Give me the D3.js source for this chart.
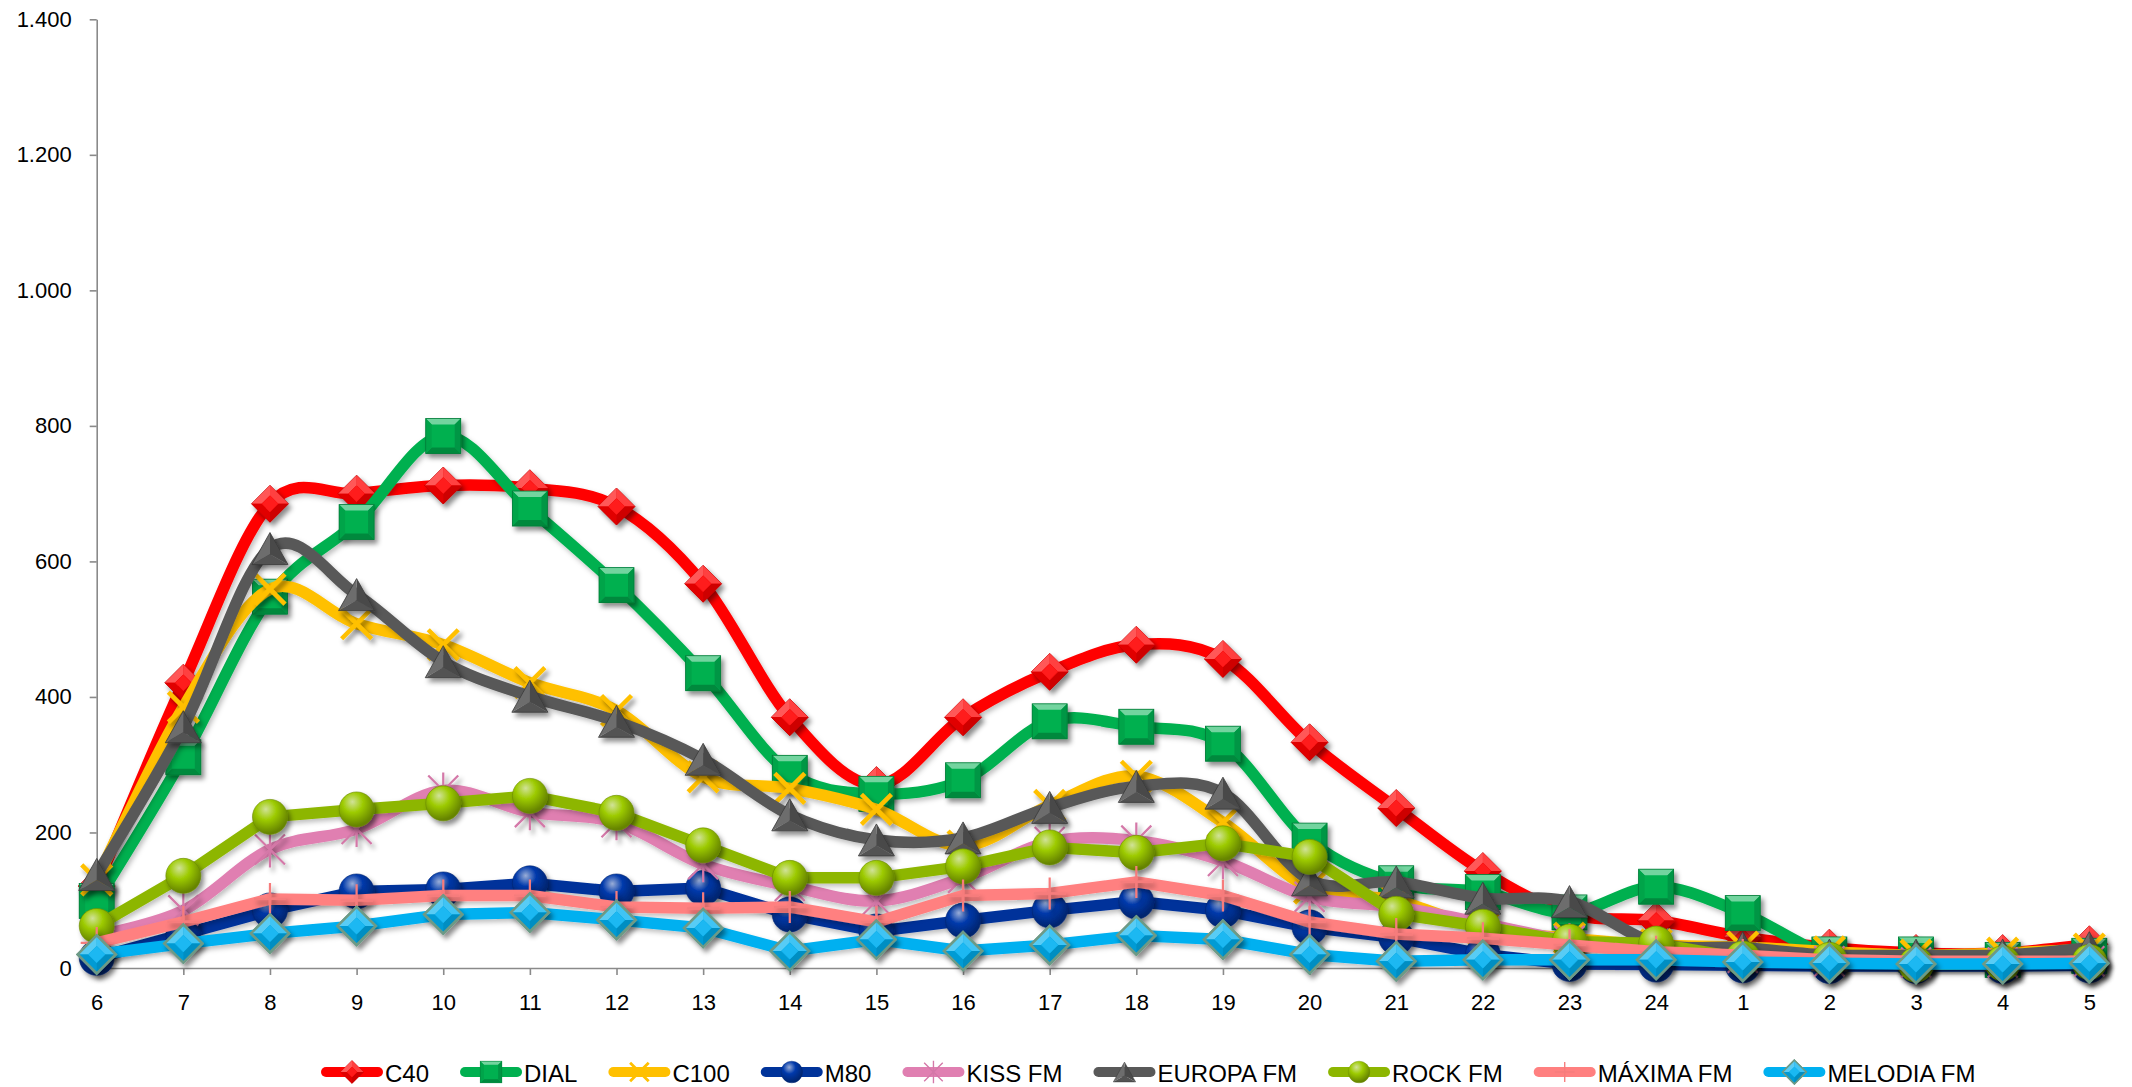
<!DOCTYPE html>
<html><head><meta charset="utf-8">
<script src="https://cdn.jsdelivr.net/npm/d3@7"></script>
<style>
body{margin:0;background:#fff}
svg{display:block}
text{font-family:"Liberation Sans",Arial,sans-serif;fill:#000}
</style>
</head><body>
<svg id="chart" width="2132" height="1087"></svg>
<script>
// ---------- DATA ----------
const categories = ["6","7","8","9","10","11","12","13","14","15","16","17","18","19","20","21","22","23","24","1","2","3","4","5"];
const seriesNames = ["C40","DIAL","C100","M80","KISS FM","EUROPA FM","ROCK FM","MÁXIMA FM","MELODIA FM"];
const c40     = [121,421,685,700,712,708,681,567,370,270,370,437,477,456,333,236,143,80,70,46,30,22,22,35];
const dial    = [99,311,548,658,785,678,565,435,288,257,277,364,356,331,188,125,112,82,120,81,20,20,12,18];
const c100    = [130,385,559,508,477,421,380,282,265,234,180,240,283,215,118,100,58,44,34,31,24,19,22,28];
const m80     = [15,50,85,113,116,125,113,118,79,54,70,85,98,85,60,45,20,6,5,4,3,3,3,4];
const kissFm  = [48,85,175,205,262,230,215,153,121,99,133,186,188,158,105,90,66,40,25,15,10,8,8,10];
const europaFm= [138,356,619,551,452,401,364,308,226,189,192,237,268,258,130,127,103,98,36,30,19,19,19,30];
const rockFm  = [62,136,223,234,243,254,229,181,133,133,150,178,170,184,164,80,61,39,36,14,12,5,7,9];
const maximaFm= [37,68,102,100,107,107,90,88,90,68,107,110,127,107,68,50,44,34,24,19,12,10,10,10];
const melodiaFm=[20,36,51,62,79,82,71,59,25,42,25,34,48,42,20,10,12,12,12,9,7,6,6,7];
const yTickValues = [0,200,400,600,800,1000,1200,1400];
const yTickLabels = ["0","200","400","600","800","1.000","1.200","1.400"];

// ---------- STYLE ----------
const styles = [
  {color:"#FF0000", marker:"diamond", smooth:true},
  {color:"#00B050", marker:"square", smooth:true},
  {color:"#FFC000", marker:"x", smooth:true},
  {color:"#00339A", marker:"circle", smooth:false},
  {color:"#E07FB1", marker:"star", smooth:true},
  {color:"#595959", marker:"triangle", smooth:true},
  {color:"#8DB600", marker:"circle", smooth:false},
  {color:"#FF8080", marker:"plus", smooth:false},
  {color:"#00B0F0", marker:"diamond2", smooth:false}
];
const seriesValues = [c40,dial,c100,m80,kissFm,europaFm,rockFm,maximaFm,melodiaFm];
const series = seriesNames.map((n,i)=>({name:n, values:seriesValues[i], ...styles[i], id:i}));

const svg = d3.select("#chart");
const X0 = 96.7, X1 = 2089.3, Y0 = 968, Y1 = 19.3;
const x = d3.scalePoint().domain(categories).range([X0, X1]);
const y = d3.scaleLinear().domain([0,1400]).range([Y0, Y1]);

// defs
const defs = svg.append("defs");
const f = defs.append("filter").attr("id","mshadow").attr("x","-50%").attr("y","-50%").attr("width","200%").attr("height","200%");
f.append("feDropShadow").attr("dx",3).attr("dy",4).attr("stdDeviation",2.5).attr("flood-color","#000").attr("flood-opacity",0.45);
const fl = defs.append("filter").attr("id","lshadow").attr("x","-5%").attr("y","-20%").attr("width","110%").attr("height","140%");
fl.append("feDropShadow").attr("dx",2).attr("dy",3).attr("stdDeviation",2.5).attr("flood-color","#000").attr("flood-opacity",0.25);

series.forEach(s=>{
  if (s.marker==="circle"){
    const c = d3.color(s.color);
    const rg = defs.append("radialGradient").attr("id","rg"+s.id).attr("cx","40%").attr("cy","32%").attr("r","65%").attr("fx","38%").attr("fy","28%");
    rg.append("stop").attr("offset","0%").attr("stop-color", d3.interpolateRgb(s.color,"#ffffff")(0.6));
    rg.append("stop").attr("offset","45%").attr("stop-color", c.brighter(0.3).formatHex());
    rg.append("stop").attr("offset","100%").attr("stop-color", c.darker(0.9).formatHex());
  }
});

// axes
const yAxis = d3.axisLeft(y).tickValues(yTickValues).tickFormat((d,i)=>yTickLabels[i]).tickSize(7).tickSizeOuter(0).tickPadding(18);
const gy = svg.append("g").attr("transform",`translate(${X0},0)`).call(yAxis);
gy.selectAll("text").style("font-size","22px");
gy.select(".domain").attr("stroke","#8a8a8a").attr("stroke-width",1.6);
gy.selectAll(".tick line").attr("stroke","#8a8a8a").attr("stroke-width",1.6);

const xAxis = d3.axisBottom(x).tickSize(7).tickSizeOuter(0).tickPadding(19);
const gx = svg.append("g").attr("transform",`translate(0,${Y0})`).call(xAxis);
gx.selectAll("text").style("font-size","22px");
gx.select(".domain").attr("stroke","#8a8a8a").attr("stroke-width",1.6);
gx.selectAll(".tick line").attr("stroke","#8a8a8a").attr("stroke-width",1.6);

// marker drawing
function shade(col,k){ const c=d3.color(col); return (k>=0?c.brighter(k):c.darker(-k)).formatHex(); }
function mix(col,other,t){ return d3.interpolateRgb(col,other)(t); }
function drawMarker(g, s, scale){
  const col = s.color, k = scale;
  switch(s.marker){
    case "diamond":
    case "diamond2": {
      const r = (s.marker==="diamond2"?19:18.5)*k;
      const ins = r*0.45;
      g.append("path").attr("d",`M0,${-r}L${r},0L0,${r}L${-r},0Z`).attr("fill",shade(col,-0.3))
        .attr("stroke", s.marker==="diamond2"?"#6d9a86":shade(col,-1)).attr("stroke-width", s.marker==="diamond2"?2.5*k:0.8*k);
      // facets
      g.append("path").attr("d",`M0,${-r}L${r},0L${ins},0L0,${-ins}Z`).attr("fill",mix(col,"#fff",0.25));
      g.append("path").attr("d",`M0,${-r}L${-r},0L${-ins},0L0,${-ins}Z`).attr("fill",mix(col,"#fff",0.35));
      g.append("path").attr("d",`M0,${r}L${-r},0L${-ins},0L0,${ins}Z`).attr("fill",shade(col,-0.35));
      g.append("path").attr("d",`M0,${r}L${r},0L${ins},0L0,${ins}Z`).attr("fill",shade(col,-0.6));
      g.append("path").attr("d",`M0,${-ins}L${ins},0L0,${ins}L${-ins},0Z`).attr("fill",mix(col,"#fff",0.1));
      if (s.marker==="diamond2") g.append("path").attr("d",`M0,${-r}L${r},0L0,${r}L${-r},0Z`).attr("fill","none").attr("stroke","#6d9a86").attr("stroke-width",2.5*k);
      break;
    }
    case "square": {
      const h = 17.5*k, b = 6*k;
      g.append("rect").attr("x",-h).attr("y",-h).attr("width",2*h).attr("height",2*h).attr("fill",col);
      g.append("path").attr("d",`M${-h},${-h}L${h},${-h}L${h-b},${-h+b}L${-h+b},${-h+b}Z`).attr("fill",mix(col,"#fff",0.45));
      g.append("path").attr("d",`M${-h},${h}L${h},${h}L${h-b},${h-b}L${-h+b},${h-b}Z`).attr("fill",shade(col,-0.7));
      g.append("path").attr("d",`M${-h},${-h}L${-h+b},${-h+b}L${-h+b},${h-b}L${-h},${h}Z`).attr("fill",shade(col,-0.2));
      g.append("path").attr("d",`M${h},${-h}L${h-b},${-h+b}L${h-b},${h-b}L${h},${h}Z`).attr("fill",shade(col,-0.45));
      g.append("rect").attr("x",-h).attr("y",-h).attr("width",2*h).attr("height",2*h).attr("fill","none").attr("stroke",shade(col,-1)).attr("stroke-width",0.8*k);
      break;
    }
    case "triangle": {
      const w = 18*k, ht = 16*k;
      const cy = ht*0.35;
      g.append("path").attr("d",`M0,${-ht}L${w},${ht}L0,${cy}Z`).attr("fill",shade(col,-0.5));
      g.append("path").attr("d",`M0,${-ht}L${-w},${ht}L0,${cy}Z`).attr("fill",mix(col,"#fff",0.12));
      g.append("path").attr("d",`M${-w},${ht}L${w},${ht}L0,${cy}Z`).attr("fill",shade(col,-0.2));
      g.append("path").attr("d",`M0,${-ht}L${w},${ht}L${-w},${ht}Z`).attr("fill","none").attr("stroke","#3a3a3a").attr("stroke-width",0.8*k);
      break;
    }
    case "circle": {
      const r = 17.5*k;
      g.append("circle").attr("r",r).attr("fill",`url(#rg${s.id})`).attr("stroke",shade(col,-0.8)).attr("stroke-width",0.6*k);
      break;
    }
    case "x": {
      const a = 15*k;
      g.append("path").attr("d",`M${-a},${-a}L${a},${a}M${-a},${a}L${a},${-a}`).attr("stroke",col).attr("stroke-width",4.5*k).attr("stroke-linecap","butt");
      break;
    }
    case "star": {
      const a = 15*k;
      g.append("path").attr("d",`M${-a},${-a}L${a},${a}M${-a},${a}L${a},${-a}M0,${-a*1.2}L0,${a*1.2}`).attr("stroke",shade(col,-0.15)).attr("stroke-width",2.2*k);
      break;
    }
    case "plus": {
      const a = 16*k;
      g.append("path").attr("d",`M0,${-a}L0,${a}M${-a},0L${a},0`).attr("stroke",shade(col,-0.1)).attr("stroke-width",2.2*k);
      break;
    }
  }
}

// series
const plot = svg.append("g");
series.forEach(s=>{
  const line = d3.line().x((d,i)=>x(categories[i])).y(d=>y(d))
    .curve(s.smooth ? d3.curveCardinal.tension(0) : d3.curveLinear);
  const g = plot.append("g");
  g.append("path").datum(s.values).attr("d",line).attr("fill","none").attr("stroke",s.color)
    .attr("stroke-width",11.5).attr("stroke-linejoin","round").attr("stroke-linecap","round").attr("filter","url(#lshadow)");
  const mg = g.append("g").attr("filter","url(#mshadow)");
  s.values.forEach((v,i)=>{
    const m = mg.append("g").attr("transform",`translate(${x(categories[i])},${y(v)})`);
    drawMarker(m, s, 1);
  });
});

// legend
const leg = svg.append("g").attr("transform","translate(0,1072)");
let lx = 321;
series.forEach(s=>{
  const item = leg.append("g").attr("transform",`translate(${lx},0)`);
  item.append("line").attr("x1",5).attr("x2",57).attr("y1",0).attr("y2",0).attr("stroke",s.color).attr("stroke-width",10).attr("stroke-linecap","round");
  const m = item.append("g").attr("transform","translate(31,0)");
  drawMarker(m, s, 0.62);
  const t = item.append("text").attr("x",64).attr("y",1).attr("dominant-baseline","central").style("font-size","24px").text(s.name);
  lx += 64 + t.node().getComputedTextLength() + 31;
});
</script>
</body></html>
